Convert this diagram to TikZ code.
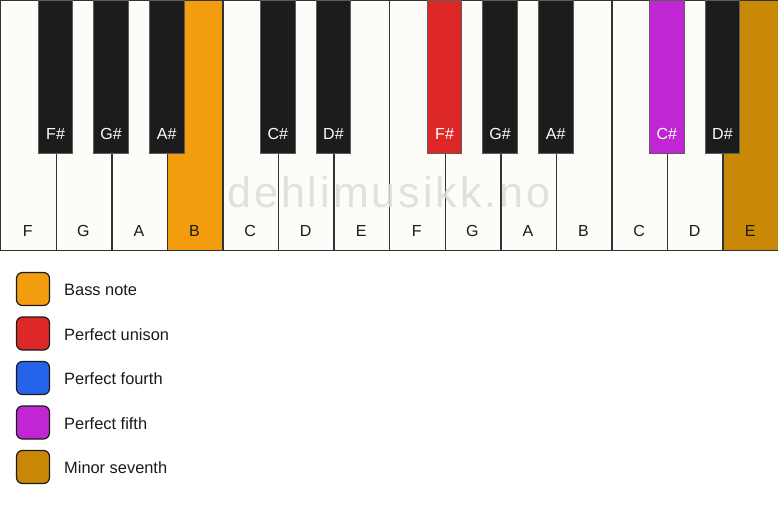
\documentclass[tikz,border=0pt]{standalone}
\usepackage{fontspec}
\setmainfont{Liberation Sans}
\definecolor{whitekey}{HTML}{FDFCF8}
\definecolor{blackkey}{HTML}{1C1C1C}
\definecolor{keyline}{HTML}{333333}
\definecolor{bassc}{HTML}{F39C0E}
\definecolor{unisonc}{HTML}{DE2828}
\definecolor{fourthc}{HTML}{2563EB}
\definecolor{fifthc}{HTML}{C026D3}
\definecolor{seventhc}{HTML}{C98806}
\definecolor{wmark}{HTML}{DCDCDC}
\definecolor{txt}{HTML}{1A1A1A}
\tikzset{
  wkey/.style={draw=keyline, line width=1.4pt, rectangle, inner sep=0pt, minimum width=55.571pt, minimum height=250pt, anchor=north west},
  bkey/.style={draw=keyline!80, line width=0.8pt, rectangle, inner sep=0pt, minimum width=34.5pt, minimum height=153pt, anchor=north},
  lbl/.style={font=\fontsize{16}{19}\selectfont, inner sep=0pt, anchor=base},
  swatch/.style={draw=txt, line width=1.2pt, rounded corners=6pt, minimum size=33pt, inner sep=0pt},
  legtext/.style={font=\fontsize{16.4}{19}\selectfont, text=txt, inner sep=0pt, anchor=base west}
}
\begin{document}
\begin{tikzpicture}[x=1pt,y=-1pt]
\useasboundingbox (0,0) rectangle (778,506);
\fill[white] (0,0) rectangle (778,506);
% white keys
\foreach \i/\n/\c in {0/F/whitekey,1/G/whitekey,2/A/whitekey,3/B/bassc,4/C/whitekey,5/D/whitekey,6/E/whitekey,7/F/whitekey,8/G/whitekey,9/A/whitekey,10/B/whitekey,11/C/whitekey,12/D/whitekey,13/E/seventhc}{
  \node[wkey, fill=\c] (w\i) at ({\i*55.571},0) {};
  \node[lbl, text=txt] (wl\i) at ({\i*55.571+27.79},236.7) {\n};
}
% watermark
\node[font=\fontsize{43}{48}\selectfont\addfontfeature{LetterSpace=7}, text=wmark, text opacity=0.85, inner sep=0pt, anchor=base] (wm) at (389,207.7) {dehlimusikk.no};
% black keys
\foreach \i/\n/\c in {1/F/blackkey,2/G/blackkey,3/A/blackkey,5/C/blackkey,6/D/blackkey,8/F/unisonc,9/G/blackkey,10/A/blackkey,12/C/fifthc,13/D/blackkey}{
  \node[bkey, fill=\c] (b\i) at ({\i*55.571},0) {};
  \node[lbl, text=white] (bl\i) at ({\i*55.571},139) {\n\#};
}
% legend
\foreach \k/\c/\t in {0/bassc/Bass note,1/unisonc/Perfect unison,2/fourthc/Perfect fourth,3/fifthc/Perfect fifth,4/seventhc/Minor seventh}{
  \node[swatch, fill=\c] (s\k) at (33,{289+44.5*\k}) {};
  \node[legtext] (t\k) at (64,{295.6+44.5*\k}) {\t};
}
\end{tikzpicture}
\end{document}
